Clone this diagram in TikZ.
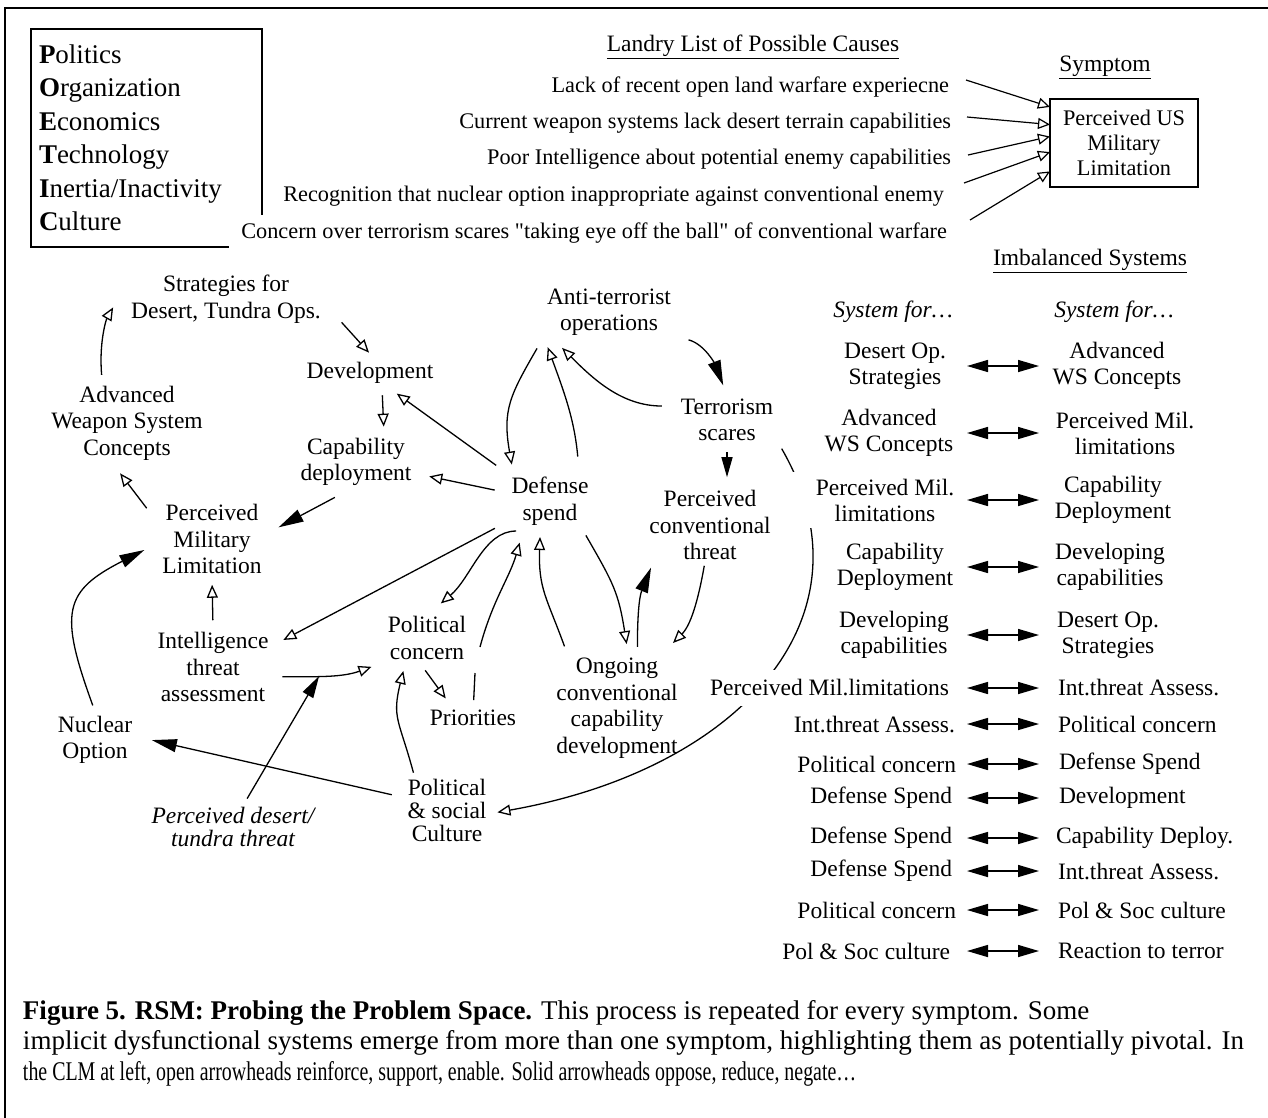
\documentclass[tikz,border=0pt]{standalone}
\usepackage{fontspec}
\usepackage{graphicx}
\setmainfont{Liberation Serif}[Ligatures=TeXOff]
\usetikzlibrary{arrows.meta,calc}
\pgfdeclarelayer{bg}
\pgfsetlayers{bg,main}
\newcommand\rsmtext{\fontsize{23.5}{26.5}\selectfont}
\newcommand\rsmcause{\fontsize{22.3}{26}\selectfont}
\newcommand\rsmlegend{\fontsize{27}{33.5}\selectfont}
\newcommand\rsmcap{\fontsize{27}{30.5}\selectfont}

\begin{document}
\begin{tikzpicture}[x=1pt,y=-1pt,
  every node/.style={font=\rsmtext, inner sep=3pt, outer sep=3pt},
  lbl/.style={align=center},
  cause/.style={anchor=east, font=\rsmcause},
  sysl/.style={align=center, fill=white, font=\fontsize{23.5}{26}\selectfont},
  pairl/.style={anchor=east, fill=white},
  pairr/.style={anchor=west},
  lnk/.style={line width=1.3pt},
  opn/.style={lnk, -{Triangle[open,length=13pt,width=11pt]}},
  sld/.style={lnk, -{Triangle[length=25pt,width=13pt]}},
  feed/.style={line width=1.2pt, -{Triangle[open,length=12pt,width=11pt]}},
  dbl/.style={line width=1.5pt, {Triangle[length=21pt,width=12pt]}-{Triangle[length=21pt,width=12pt]}},
]
\useasboundingbox (0,0) rectangle (1268,1117);

% outer frame
\draw[line width=2pt] (5,8) rectangle (1275,1125);

% POETIC legend
\node[draw, line width=1.3pt, minimum width=231pt, minimum height=218pt,
      inner sep=0pt, outer sep=0pt, text width=215pt, align=left, font=\rsmlegend]
  (poetic) at (146.5,138)
  {\textbf{P}olitics\\ \textbf{O}rganization\\ \textbf{E}conomics\\
   \textbf{T}echnology\\ \textbf{I}nertia/Inactivity\\ \textbf{C}ulture};

% headings
\node (landry) at (753,47) {\underline{Landry List of Possible Causes}};
\node (symlbl) at (1105,67) {\underline{Symptom}};
\node (imbal) at (1090,261) {\underline{Imbalanced Systems}};

% list of causes
\node[cause] (c1) at (955,87) {Lack of recent open land warfare experiecne};
\node[cause] (c2) at (957,123) {Current weapon systems lack desert terrain capabilities};
\node[cause] (c3) at (957,159) {Poor Intelligence about potential enemy capabilities};
\node[cause] (c4) at (950,196) {Recognition that nuclear option inappropriate against conventional enemy};
\node[cause, fill=white, inner xsep=12pt, inner ysep=8pt] (c5) at (962,233)
  {Concern over terrorism scares "taking eye off the ball" of conventional warfare};

% symptom box
\node[draw, line width=1.3pt, minimum width=148pt, minimum height=88pt, inner sep=0pt,
      outer sep=0pt, align=center, font=\fontsize{22.3}{25}\selectfont]
  (sym) at (1124,143) {Perceived US\\Military\\Limitation};

\draw[feed] ([xshift=11pt,yshift=7pt]c1.east) -- (sym.154);
\draw[feed] ([xshift=10pt,yshift=6pt]c2.east) -- (sym.166);
\draw[feed] ([xshift=11pt,yshift=4pt]c3.east) -- (sym.175);
\draw[feed] ([xshift=14pt,yshift=13pt]c4.east) -- (sym.187);
\draw[feed] ([xshift=8pt,yshift=13pt]c5.east) -- (sym.201);

% causal loop nodes
\node[lbl] (strat) at (226,299) {Strategies for\\Desert, Tundra Ops.};
\node[lbl] (dev) at (370,373) {Development};
\node[lbl] (capdep) at (356,462) {Capability\\deployment};
\node[lbl] (aws) at (127,423) {Advanced\\Weapon System\\Concepts};
\node[lbl] (pml) at (212,539) {Perceived\\Military\\Limitation};
\node[lbl] (intel) at (213,667) {Intelligence\\threat\\assessment};
\node[lbl] (nuc) at (95,740) {Nuclear\\Option};
\node[lbl, font=\fontsize{23.5}{23}\selectfont\itshape] (desth) at (233,827) {Perceived desert/\\tundra threat};
\node[lbl] (polc) at (427,638) {Political\\concern};
\node[lbl] (prio) at (473,718) {Priorities};
\node[lbl, font=\fontsize{23.5}{23}\selectfont] (polcul) at (447,810) {Political\\\& social\\Culture};
\node[lbl] (def) at (550,501) {Defense\\spend};
\node[lbl] (anti) at (609,312) {Anti-terrorist\\operations};
\node[lbl] (terr) at (727,420) {Terrorism\\scares};
\node[lbl] (pct) at (710,525) {Perceived\\conventional\\threat};
\node[lbl] (ong) at (617,708) {Ongoing\\conventional\\capability\\development};

% causal links
\draw[opn, shorten <=5pt, shorten >=24pt] (aws.120) to[out=95,in=240] (strat.173);
\draw[opn, shorten <=22pt, shorten >=5pt] (strat.-4) -- (dev.82);
\draw[opn, shorten <=5.6pt, shorten >=5.4pt] (dev.-54) -- (capdep.47);
\draw[opn, shorten <=11.5pt, shorten >=6.7pt] (def.147) -- (dev.-38);
\draw[opn, shorten <=11pt, shorten >=12pt] (def.169) -- (capdep.-11);
\draw[sld, shorten <=11.6pt, shorten >=12.4pt] (capdep.250) -- (pml.6);
\draw[opn, shorten <=16pt, shorten >=9pt] (pml.162) -- (aws.254);
\draw[opn, shorten <=6pt, shorten >=5pt] (intel.north) -- (pml.south);
\draw[sld, shorten <=5pt, shorten >=13.5pt] (nuc.91) to[out=110,in=207,looseness=1.5] (pml.185);
\draw[sld, shorten <=10pt, shorten >=14pt] (polcul.164) -- (nuc.4);
\draw[opn, shorten <=8pt, shorten >=11pt] (intel.-9) to[out=0,in=200] coordinate[pos=0.4] (ip) (polc.209);
\draw[lnk, -{Triangle[length=22pt,width=12pt]}, shorten <=3pt] (desth.64) -- (ip);
\draw[opn, shorten <=12pt, shorten >=10pt] (def.206) -- (intel.20);
\draw[opn, shorten <=18pt, shorten >=11pt] (def.242) to[out=180,in=40] (polc.79);
\coordinate (prgapL) at (475,673);
\coordinate (prgapU) at (480,647);
\draw[lnk, shorten <=4pt] (prio.88) -- (prgapL);
\draw[opn, shorten >=12pt] (prgapU) to[out=75,in=254] (def.228);
\draw[opn, shorten >=5.6pt] (polcul.132) to[out=105,in=256,looseness=1.3] (polc.231);
\draw[opn, shorten <=6pt, shorten >=7pt] (polc.259) -- (prio.149);
\draw[opn, shorten <=6pt, shorten >=6pt] (ong.132) to[out=110,in=268,looseness=1.2] (def.252);
\draw[opn, shorten <=5pt, shorten >=8pt] (def.-42) to[out=-60,in=99,looseness=1.2] (ong.79);
\draw[sld, shorten <=5pt, shorten >=2pt] (ong.70) to[out=90,in=248] (pct.215);
\draw[opn, shorten >=12.7pt] (pct.262) to[out=-100,in=45] (ong.50);
\draw[lnk, -{Triangle[length=20pt,width=11pt]}, shorten <=5pt, shorten >=7pt] (terr.south) -- (terr.south |- pct.north);
\draw[sld, shorten <=12pt, shorten >=8pt] (anti.-20) to[out=-15,in=111] (terr.92);
\draw[opn, shorten <=13pt, shorten >=9pt] (terr.165) to[out=180,in=-45] (anti.209);
\draw[opn, shorten <=14.5pt, shorten >=6pt] (def.46) to[out=95,in=-70] (anti.205);
\draw[opn, shorten <=8pt, shorten >=6.5pt] (anti.south west) to[out=240,in=100,looseness=1.2] (def.141);
\begin{pgfonlayer}{bg}
\draw[opn, shorten <=5pt, shorten >=5pt] (terr.-25) .. controls +(-60:200pt) and +(10:250pt) .. (polcul.-4);
\end{pgfonlayer}

% imbalanced systems
\node[font=\rsmtext\itshape] (sysA) at (893,312) {System for…};
\node[font=\rsmtext\itshape] (sysB) at (1114,312) {System for…};
\coordinate (colA) at (967,0);
\coordinate (colB) at (1039,0);

\node[sysl] (l1) at (895,366) {Desert Op.\\Strategies};
\node[sysl] (r1) at (1117,366) {Advanced\\WS Concepts};
\node[sysl] (l2) at (889,433) {Advanced\\WS Concepts};
\node[sysl] (r2) at (1125,433) {Perceived Mil.\\limitations};
\node[sysl, minimum width=190pt, minimum height=56pt] (l3) at (885,500) {Perceived Mil.\\limitations};
\node[sysl] (r3) at (1113,500) {Capability\\Deployment};
\node[sysl] (l4) at (895,567) {Capability\\Deployment};
\node[sysl] (r4) at (1110,567) {Developing\\capabilities};
\node[sysl] (l5) at (894,635) {Developing\\capabilities};
\node[sysl] (r5) at (1108,635) {Desert Op.\\Strategies};

\node[pairl, inner ysep=10pt] (l6) at (955,688) {Perceived Mil.limitations};
\node[pairr] (r6) at (1052,688) {Int.threat Assess.};
\node[pairl] (l7) at (961,724) {Int.threat Assess.};
\node[pairr] (r7) at (1052,724) {Political concern};
\node[pairl] (l8) at (962,764) {Political concern};
\node[pairr] (r8) at (1053,764) {Defense Spend};
\node[pairl] (l9) at (958,798) {Defense Spend};
\node[pairr] (r9) at (1053,798) {Development};
\node[pairl] (l10) at (958,838) {Defense Spend};
\node[pairr] (r10) at (1050,838) {Capability Deploy.};
\node[pairl] (l11) at (958,871) {Defense Spend};
\node[pairr] (r11) at (1052,871) {Int.threat Assess.};
\node[pairl] (l12) at (962,910) {Political concern};
\node[pairr] (r12) at (1052,910) {Pol \& Soc culture};
\node[pairl] (l13) at (956,951) {Pol \& Soc culture};
\node[pairr] (r13) at (1052,951) {Reaction to terror};

\foreach \k in {1,...,13}
  \draw[dbl] (l\k.east -| colA) -- (r\k.west -| colB);

% caption
\node[anchor=west, align=left, font=\rsmcap, inner sep=0pt] (capt) at (20,1043)
  {\textbf{Figure 5. RSM: Probing the Problem Space.} This process is repeated for every symptom. Some\\
   implicit dysfunctional systems emerge from more than one symptom, highlighting them as potentially pivotal. In\\
   \scalebox{0.737}[1]{the CLM at left, open arrowheads reinforce, support, enable. Solid arrowheads oppose, reduce, negate…}};
\end{tikzpicture}
\end{document}
